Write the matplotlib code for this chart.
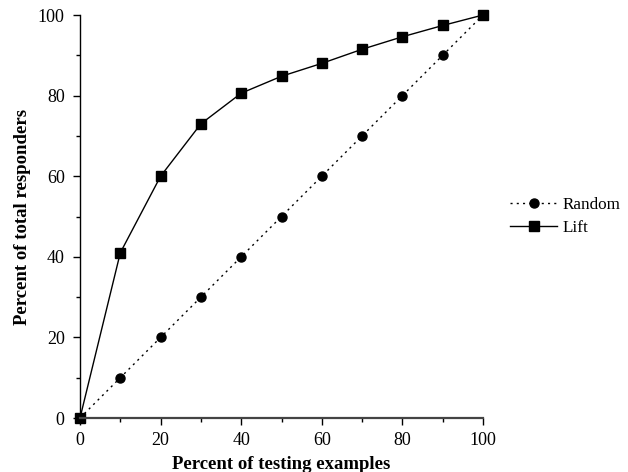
import matplotlib
matplotlib.use('Agg')
import matplotlib.pyplot as plt
from matplotlib.ticker import MultipleLocator

plt.rcParams['font.family'] = ['Liberation Serif', 'DejaVu Serif']
plt.rcParams['font.size'] = 13

# data
x = [0, 10, 20, 30, 40, 50, 60, 70, 80, 90, 100]
random_y = [0, 10, 20, 30, 40, 50, 60, 70, 80, 90, 100]
lift_y = [0, 41, 60, 73, 80.6, 84.8, 88, 91.5, 94.6, 97.4, 100]

fig = plt.figure(figsize=(6.28, 4.72), dpi=100)
ax = fig.add_axes([0.1274, 0.1144, 0.6417, 0.8538])

ax.plot(x, random_y, linestyle=(0, (1.5, 3)), color='black', lw=1,
        marker='o', markersize=6.5, label='Random', clip_on=False)
ax.plot(x, lift_y, linestyle='-', color='black', lw=1,
        marker='s', markersize=6.5, label='Lift', clip_on=False)

ax.set_xlim(0, 100)
ax.set_ylim(0, 100)
ax.xaxis.set_major_locator(MultipleLocator(20))
ax.xaxis.set_minor_locator(MultipleLocator(10))
ax.yaxis.set_major_locator(MultipleLocator(20))
ax.yaxis.set_minor_locator(MultipleLocator(10))
ax.tick_params(which='major', direction='out', length=5, width=1, labelsize=13)
ax.tick_params(which='minor', direction='out', length=3, width=1)
ax.tick_params(axis='x', which='major', pad=5)
ax.tick_params(axis='y', which='major', pad=6)

ax.spines['top'].set_visible(False)
ax.spines['right'].set_visible(False)
ax.spines['bottom'].set_color('#444444')
ax.spines['bottom'].set_linewidth(1.6)
ax.spines['left'].set_linewidth(1)

ax.set_xlabel('Percent of testing examples', fontweight='bold', fontsize=13.5, labelpad=5)
ax.set_ylabel('Percent of total responders', fontweight='bold', fontsize=13.5, labelpad=5)

ax.legend(loc='center left', bbox_to_anchor=(1.03, 0.5), frameon=False,
          fontsize=12.3, handlelength=2.7, handletextpad=0.35, labelspacing=0.38)

fig.savefig('out.png', dpi=100)
